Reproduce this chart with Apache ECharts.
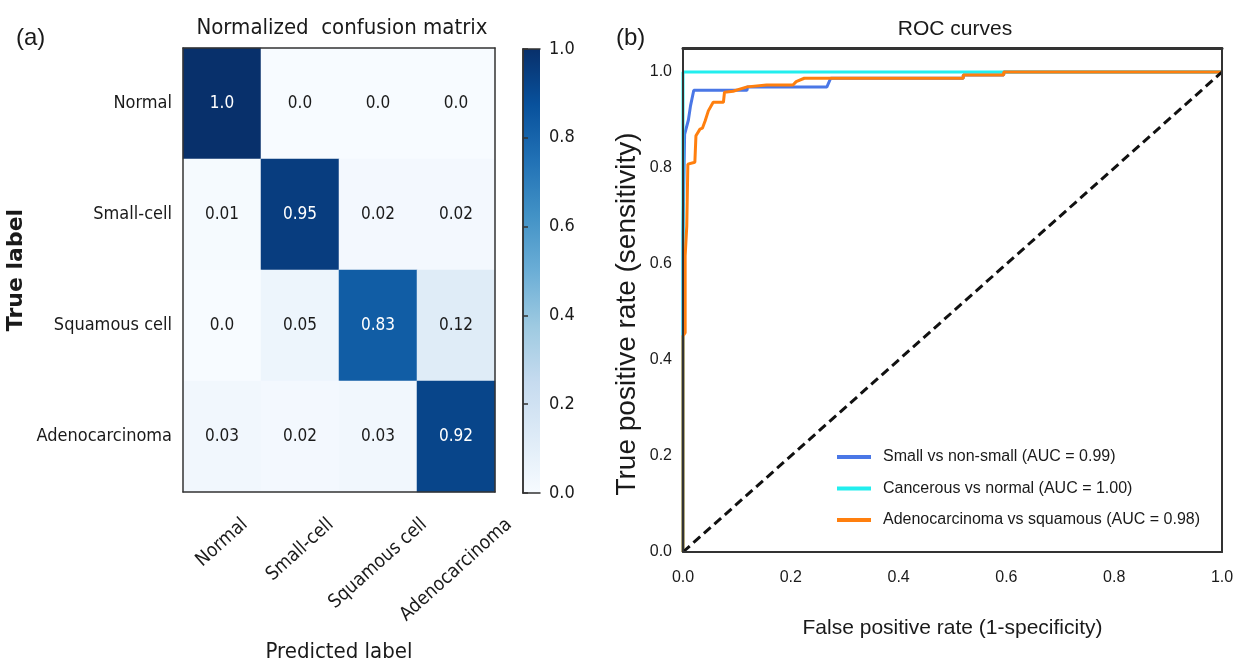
<!DOCTYPE html>
<html><head><meta charset="utf-8">
<script src="https://cdn.jsdelivr.net/npm/echarts@6/dist/echarts.min.js"></script>
<style>html,body{margin:0;padding:0;background:#fff}#c{width:1241px;height:668px}</style>
</head><body><div id="c"></div>
<script>
// ---------- data ----------
const predLabels = ['Normal', 'Small-cell', 'Squamous cell', 'Adenocarcinoma'];
const trueLabels = ['Normal', 'Small-cell', 'Squamous cell', 'Adenocarcinoma'];
const cmValues = [
  [1.0, 0.0, 0.0, 0.0],
  [0.01, 0.95, 0.02, 0.02],
  [0.0, 0.05, 0.83, 0.12],
  [0.03, 0.02, 0.03, 0.92]
];
const colorbarMin = 0.0;
const colorbarMax = 1.0;
const bluesColors = ['#f7fbff','#deebf7','#c6dbef','#9ecae1','#6baed6','#4292c6','#2171b5','#08519c','#08306b'];

const legendNames = [
  'Small vs non-small (AUC = 0.99)',
  'Cancerous vs normal (AUC = 1.00)',
  'Adenocarcinoma vs squamous (AUC = 0.98)'
];
const rocSmall = [[0,0],[0,0.66],[0.003,0.87],[0.006,0.872],[0.01,0.9],[0.014,0.93],[0.02,0.962],[0.119,0.962],[0.119,0.969],[0.267,0.969],[0.274,0.987],[0.52,0.987],[0.52,0.994],[0.595,0.994],[0.595,1],[1,1]];
const rocCancer = [[0,0],[0,1],[1,1]];
const rocAdeno = [[0,0],[0,0.45],[0.004,0.457],[0.004,0.617],[0.007,0.62],[0.007,0.679],[0.009,0.808],[0.022,0.812],[0.024,0.867],[0.0315,0.881],[0.036,0.883],[0.041,0.898],[0.047,0.919],[0.056,0.937],[0.075,0.937],[0.077,0.958],[0.093,0.96],[0.119,0.969],[0.155,0.973],[0.204,0.973],[0.21,0.98],[0.225,0.987],[0.52,0.987],[0.52,0.994],[0.595,0.994],[0.595,1],[1,1]];
const rocChance = [[0,0],[1,1]];

// ---------- fonts ----------
function fontAvail(fam){
  const c = document.createElement('canvas').getContext('2d');
  const s = 'abcdefghijklmnopqrstuvwxyz ABCDEFG 0123456789';
  c.font = '40px monospace'; const a = c.measureText(s).width;
  c.font = '40px "' + fam + '", monospace'; const b = c.measureText(s).width;
  return Math.abs(a - b) > 0.5;
}
const hasCond = fontAvail('DejaVu Sans Condensed');
const condFam = hasCond ? '"DejaVu Sans Condensed"' : '"DejaVu Sans"';
const cs = s => hasCond ? s : Math.round(s * 0.9);
const sansFam = '"Liberation Sans", Arial';
const txt = '#1a1a1a';
const frame = '#333';

// measure rotated category labels
const rot = 42, th = rot * Math.PI / 180;
const catSize = cs(18);
const xCatSize = cs(19);
const mctx = document.createElement('canvas').getContext('2d');
mctx.font = xCatSize + 'px ' + condFam;
const rich = {};
predLabels.forEach((l, i) => {
  const w = mctx.measureText(l).width;
  rich['l' + i] = {
    fontSize: xCatSize, fontFamily: condFam, color: txt, lineHeight: 20,
    padding: [w * Math.sin(th) * Math.cos(th), w * Math.sin(th) * Math.sin(th), 0, 0]
  };
});

const fmtVal = v => (Math.abs(v * 10 - Math.round(v * 10)) < 1e-9) ? v.toFixed(1) : v.toFixed(2);

const heatData = [];
cmValues.forEach((row, i) => row.forEach((v, j) => {
  heatData.push({ value: [j, i, v], label: { color: v > 0.5 ? '#ffffff' : txt } });
}));

const frameAxis = (gi, pos) => ({
  gridIndex: gi, type: 'value', position: pos, min: 0, max: 1, z: 10,
  axisLine: { show: true, onZero: false, lineStyle: { color: frame, width: 1.5 } },
  axisTick: { show: false }, axisLabel: { show: false }, splitLine: { show: false }
});

const option = {
  backgroundColor: '#fff',
  animation: false,
  title: [
    { text: '(a)', left: 11, top: 21, textStyle: { fontSize: 24, fontWeight: 'normal', fontFamily: sansFam, color: txt } },
    { text: '(b)', left: 611, top: 21, textStyle: { fontSize: 24, fontWeight: 'normal', fontFamily: sansFam, color: txt } },
    { text: 'Normalized  confusion matrix', left: 337, top: 12, textAlign: 'center', textStyle: { fontSize: cs(22), fontWeight: 'normal', fontFamily: condFam, color: txt } },
    { text: 'ROC curves', left: 950, top: 14, textAlign: 'center', textStyle: { fontSize: 21, fontWeight: 'normal', fontFamily: sansFam, color: txt } }
  ],
  grid: [
    { left: 183, top: 48, width: 312, height: 444 },
    { left: 523, top: 49, width: 17, height: 444 },
    { left: 683, top: 48, width: 539, height: 504 }
  ],
  visualMap: {
    type: 'continuous', show: false, min: colorbarMin, max: colorbarMax, dimension: 2, seriesIndex: 0,
    inRange: { color: bluesColors }
  },
  legend: {
    data: legendNames, orient: 'vertical', left: 837, top: 447, padding: 0,
    itemWidth: 34, itemHeight: 4, itemGap: 11.5, icon: 'rect',
    textStyle: { fontSize: 16, fontFamily: sansFam, color: txt, lineHeight: 20, padding: [0, 0, 0, 7] }
  },
  xAxis: [
    { gridIndex: 0, type: 'category', data: predLabels, z: 10,
      name: 'Predicted label', nameLocation: 'middle', nameGap: 149,
      nameTextStyle: { fontSize: cs(22), fontFamily: condFam, color: txt },
      axisLine: { lineStyle: { color: frame, width: 1.5 } },
      axisTick: { alignWithLabel: true, length: 5, lineStyle: { color: frame } },
      axisLabel: { interval: 0, rotate: rot, align: 'center', verticalAlign: 'middle', margin: 30,
        formatter: (v, i) => '{l' + i + '|' + v + '}', rich: rich },
      splitLine: { show: false } },
    frameAxis(0, 'top'),
    { gridIndex: 1, type: 'category', data: ['cb'], z: 10,
      axisLine: { lineStyle: { color: frame, width: 1.5 } }, axisTick: { show: false }, axisLabel: { show: false } },
    frameAxis(1, 'top'),
    { gridIndex: 2, type: 'value', min: 0, max: 1, interval: 0.2, z: 10,
      name: 'False positive rate (1-specificity)', nameLocation: 'middle', nameGap: 66,
      nameTextStyle: { fontSize: 21, fontFamily: sansFam, color: txt },
      axisLine: { lineStyle: { color: frame, width: 2 } }, axisTick: { show: false },
      axisLabel: { margin: 18, fontSize: 16, fontFamily: sansFam, color: txt, formatter: v => v.toFixed(1) },
      splitLine: { show: false } },
    Object.assign(frameAxis(2, 'top'), { axisLine: { show: true, onZero: false, lineStyle: { color: frame, width: 3 } } })
  ],
  yAxis: [
    { gridIndex: 0, type: 'category', data: trueLabels, inverse: true, z: 10,
      name: 'True label', nameLocation: 'middle', nameGap: 156, nameRotate: 90,
      nameTextStyle: { fontSize: 22, fontWeight: 'bold', fontFamily: '"DejaVu Sans"', color: txt },
      axisLine: { lineStyle: { color: frame, width: 1.5 } },
      axisTick: { alignWithLabel: true, length: 5, lineStyle: { color: frame } },
      axisLabel: { margin: 11, fontSize: catSize, fontFamily: condFam, color: txt },
      splitLine: { show: false } },
    frameAxis(0, 'right'),
    { gridIndex: 1, type: 'value', position: 'right', min: colorbarMin, max: colorbarMax, interval: 0.2, z: 10,
      axisLine: { show: true, lineStyle: { color: frame, width: 1.5 } },
      axisTick: { show: true, length: 5, lineStyle: { color: frame, width: 1.5 } },
      axisLabel: { margin: 9, fontSize: cs(18), fontFamily: condFam, color: txt, formatter: v => v.toFixed(1) },
      splitLine: { show: false } },
    frameAxis(1, 'left'),
    { gridIndex: 2, type: 'value', min: 0, max: 1.05, interval: 0.2, z: 10,
      name: 'True positive rate (sensitivity)', nameLocation: 'middle', nameGap: 42, nameRotate: 90,
      nameTextStyle: { fontSize: 28, fontFamily: sansFam, color: txt, padding: [0, 28, 0, 0] },
      axisLine: { show: true, lineStyle: { color: frame, width: 2 } }, axisTick: { show: false },
      axisLabel: { margin: 11, fontSize: 16, fontFamily: sansFam, color: txt, showMaxLabel: false,
        formatter: v => (v > 1.001 ? '' : v.toFixed(1)) },
      splitLine: { show: false } },
    Object.assign(frameAxis(2, 'right'), { max: 1.05, axisLine: { show: true, onZero: false, lineStyle: { color: frame, width: 2 } } })
  ],
  series: [
    { type: 'heatmap', xAxisIndex: 0, yAxisIndex: 0, data: heatData,
      label: { show: true, fontSize: cs(17), fontFamily: condFam, formatter: p => fmtVal(p.value[2]) },
      itemStyle: { borderWidth: 0 }, emphasis: { disabled: true } },
    { type: 'bar', xAxisIndex: 2, yAxisIndex: 2, data: [colorbarMax], barWidth: '100%', silent: true,
      itemStyle: { color: { type: 'linear', x: 0, y: 0, x2: 0, y2: 1,
        colorStops: bluesColors.slice().reverse().map((c, i, a) => ({ offset: i / (a.length - 1), color: c })) } } },
    { name: legendNames[0], type: 'line', xAxisIndex: 4, yAxisIndex: 4, data: rocSmall, showSymbol: false, symbol: 'none',
      clip: true, color: '#4a77e6', lineStyle: { width: 3, color: '#4a77e6' } },
    { name: legendNames[1], type: 'line', xAxisIndex: 4, yAxisIndex: 4, data: rocCancer, showSymbol: false, symbol: 'none',
      clip: true, color: '#22eeee', lineStyle: { width: 3, color: '#22eeee' } },
    { name: legendNames[2], type: 'line', xAxisIndex: 4, yAxisIndex: 4, data: rocAdeno, showSymbol: false, symbol: 'none',
      clip: true, color: '#ff7f0e', lineStyle: { width: 3, color: '#ff7f0e' } },
    { type: 'line', xAxisIndex: 4, yAxisIndex: 4, data: rocChance, showSymbol: false, symbol: 'none', silent: true,
      clip: true, lineStyle: { width: 3, color: '#111', type: [9, 5] } }
  ]
};
const chart = echarts.init(document.getElementById('c'), null, { renderer: 'canvas' });
chart.setOption(option);
</script></body></html>
